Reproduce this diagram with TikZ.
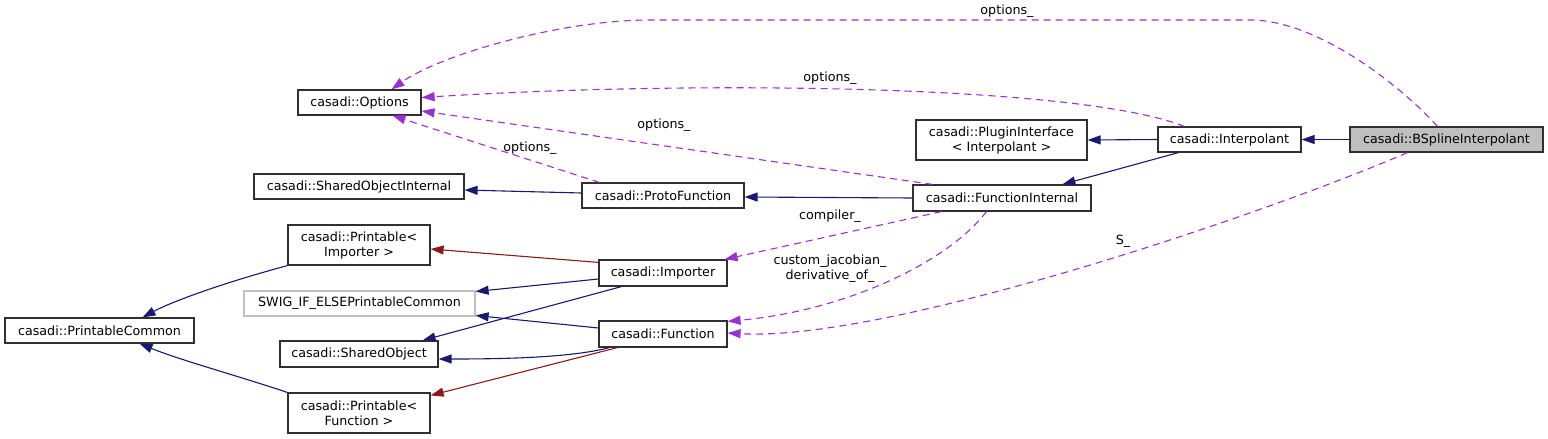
\documentclass[tikz,border=0pt]{standalone}
\usepackage{fontspec}
\setmainfont{DejaVu Sans}
\usetikzlibrary{arrows.meta,calc}
\definecolor{inhblue}{HTML}{191970}
\definecolor{tplred}{HTML}{8B1A1A}
\definecolor{usepurple}{HTML}{9A32CD}
\definecolor{boxgray}{HTML}{BFBFBF}
\definecolor{boxline}{HTML}{303030}
\begin{document}
\begin{tikzpicture}[x=1pt,y=-1pt,
  font=\fontsize{12.7}{15}\selectfont,
  box/.style={draw=boxline, line width=1.2pt, fill=white, inner sep=0pt, align=center, rectangle},
  inh/.style={draw=inhblue, line width=1.1pt, -{Triangle[length=13pt,width=9pt]}},
  tpl/.style={draw=tplred, line width=1.1pt, -{Triangle[length=13pt,width=9pt]}},
  usedep/.style={draw=usepurple, line width=1.1pt, dash pattern=on 7pt off 5pt, -{Triangle[length=13pt,width=9pt]}},
  lbl/.style={inner sep=0pt, align=center}
]
\useasboundingbox (0,0) rectangle (1548,439);
\fill[white] (0,0) rectangle (1548,439);

% nodes
\node[box, minimum width=123pt, minimum height=25pt] (opt) at (359.5,102.5) {casadi::Options};
\node[box, minimum width=210pt, minimum height=25pt] (soi) at (359,186.5) {casadi::SharedObjectInternal};
\node[box, minimum width=142pt, minimum height=40pt] (pimp) at (359,245) {casadi::Printable<\\ Importer >};
\node[box, draw=boxgray, minimum width=231pt, minimum height=25pt] (swig) at (359.5,303.5) {SWIG\_IF\_ELSEPrintableCommon};
\node[box, minimum width=189pt, minimum height=25pt] (pc) at (99.5,330.5) {casadi::PrintableCommon};
\node[box, minimum width=158pt, minimum height=26pt] (so) at (359,354) {casadi::SharedObject};
\node[box, minimum width=142pt, minimum height=40pt] (pfun) at (359,413) {casadi::Printable<\\ Function >};
\node[box, minimum width=162pt, minimum height=25pt] (proto) at (663,195.5) {casadi::ProtoFunction};
\node[box, minimum width=128pt, minimum height=26pt] (imp) at (663,273) {casadi::Importer};
\node[box, minimum width=128pt, minimum height=26pt] (fun) at (663,334) {casadi::Function};
\node[box, minimum width=178pt, minimum height=26pt] (fi) at (1002,198) {casadi::FunctionInternal};
\node[box, minimum width=171pt, minimum height=40pt] (plug) at (1001.5,140) {casadi::PluginInterface\\ < Interpolant >};
\node[box, minimum width=143pt, minimum height=25pt] (interp) at (1229.5,139.5) {casadi::Interpolant};
\node[box, fill=boxgray, minimum width=193pt, minimum height=25pt] (bsp) at (1446.5,139.5) {casadi::BSplineInterpolant};

% inheritance (blue)
\draw[inh] (bsp.west) -- (interp.east);
\draw[inh] (interp.west) -- (plug.east);
\draw[inh] ($(interp.south west)+(21,0)$) -- ($(fi.north west)+(150,0)$);
\draw[inh] (fi.west) -- ($(proto.east)+(0,1.5)$);
\draw[inh] ($(proto.west)+(0,-2.5)$) -- ($(soi.east)+(0,3.5)$);
\draw[inh] ($(imp.west)+(0,6)$) -- ($(swig.east)+(0,-12)$);
\draw[inh] ($(imp.south west)+(23,0)$) -- ($(so.north east)+(-16,0)$);
\draw[inh] ($(fun.west)+(0,-6)$) -- ($(swig.east)+(0,12)$);
\draw[inh] ($(fun.south west)+(11,0)$) .. controls (570,358) and (500,359) .. ($(so.east)+(0,5)$);
\draw[inh] (pimp.south west) .. controls (230,281) and (175,300) .. ($(pc.north)+(43,0)$);
\draw[inh] (pfun.north west) .. controls (235,375) and (180,360) .. ($(pc.south)+(40,0)$);

% template (red)
\draw[tpl] ($(imp.north west)+(0,3)$) -- ($(pimp.east)+(0,4)$);
\draw[tpl] ($(fun.south west)+(19,0)$) -- ($(pfun.north east)+(0,3)$);

% usage (purple dashed)
\coordinate (t1) at (1250,20);
\coordinate (t2) at (650,20);
\draw[usedep] ($(bsp.north west)+(88,0)$) .. controls (1405,90) and (1320,20) .. (t1) -- (t2) .. controls (560,20) and (440,55) .. ($(opt.north)+(32,0)$);
\node[lbl] (l1) at (1007,11) {options\_};

\draw[usedep] ($(interp.north west)+(27,0)$) .. controls (1080,85) and (700,80) .. ($(opt.east)+(0,-5)$);
\node[lbl] (l2) at (830,78) {options\_};

\draw[usedep] ($(fi.north west)+(20,0)$) -- ($(opt.east)+(0,8.5)$);
\node[lbl] (l3) at (664,125) {options\_};

\draw[usedep] ($(proto.north west)+(18,0)$) -- ($(opt.south)+(33,0)$);
\node[lbl] (l4) at (530,148) {options\_};

\draw[usedep] ($(fi.south west)+(29,0)$) -- ($(imp.north east)+(-3,0)$);
\node[lbl] (l5) at (830,216) {compiler\_};

\draw[usedep] ($(fi.south west)+(74,0)$) .. controls (950,260) and (850,310) .. ($(fun.north east)+(0,1)$);
\node[lbl] (l6) at (830,268.5) {custom\_jacobian\_\\ derivative\_of\_};

\draw[usedep] ($(bsp.south west)+(58,0)$) .. controls (1270,212) and (890,342) .. ($(fun.east)+(0,-1)$);
\node[lbl] (l7) at (1123,241) {S\_};
\end{tikzpicture}
\end{document}
